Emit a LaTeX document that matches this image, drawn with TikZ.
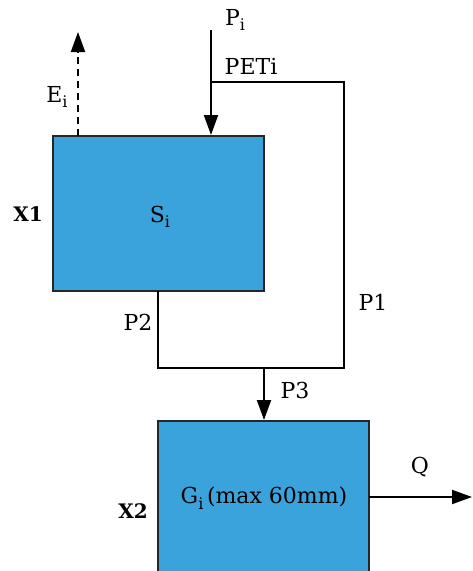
\documentclass[tikz,border=0pt]{standalone}
\usepackage{fontspec}
\setmainfont{DejaVu Serif}
\usetikzlibrary{arrows.meta}
\definecolor{boxblue}{HTML}{3BA3DC}
\newcommand{\sbi}{\raisebox{-0.25em}{\fontsize{16}{18}\selectfont i}}
\tikzset{
  blk/.style={draw=black!85, line width=1.8pt, fill=boxblue},
  flow/.style={line width=2pt, black},
  arr/.style={flow, -{Triangle[length=20pt,width=14pt]}},
  lbl/.style={font=\fontsize{22}{26}\selectfont, inner sep=0pt},
  blbl/.style={font=\fontsize{20}{24}\selectfont\bfseries, inner sep=0pt},
}
\begin{document}
\begin{tikzpicture}[x=1pt,y=-1pt]
\useasboundingbox (0,0) rectangle (472,571);
% boxes
\draw[blk] (53,136) rectangle (264,291);
\draw[blk] (158,421) rectangle (369,575);
\node[lbl] (si) at (160,217) {S\sbi};
\node[lbl] (gi) at (264,498) {G\sbi\,(max 60mm)};
\node[blbl] (x1) at (28,214) {X1};
\node[blbl] (x2) at (133,511) {X2};
% coordinates
\coordinate (pin) at (211,30);
\coordinate (b1top) at (211,135);
\coordinate (split) at (211,82);
\coordinate (rtop) at (344,82);
\coordinate (rbot) at (344,368);
\coordinate (lbot) at (158,368);
\coordinate (b1bot) at (158,291);
\coordinate (join) at (264,368);
\coordinate (b2top) at (264,420);
\coordinate (eb) at (78,136);
\coordinate (et) at (78,32);
\coordinate (qs) at (369,497);
\coordinate (qe) at (472,497);
% connectors
\draw[arr] (pin) -- (b1top);
\draw[flow] (split) -- (rtop) -- (rbot) -- (lbot) -- (b1bot);
\draw[arr] (join) -- (b2top);
\draw[arr, dash pattern=on 7pt off 5pt] (eb) -- (et);
\draw[arr] (qs) -- (qe);
% labels
\node[lbl] (pi) at (235,20) {P\sbi};
\node[lbl] (peti) at (251,66) {PETi};
\node[lbl] (ei) at (57,97) {E\sbi};
\node[lbl] (p1) at (373,302) {P1};
\node[lbl] (p2) at (138,322) {P2};
\node[lbl] (p3) at (295,390) {P3};
\node[lbl] (q) at (420,467) {Q};
\end{tikzpicture}
\end{document}
